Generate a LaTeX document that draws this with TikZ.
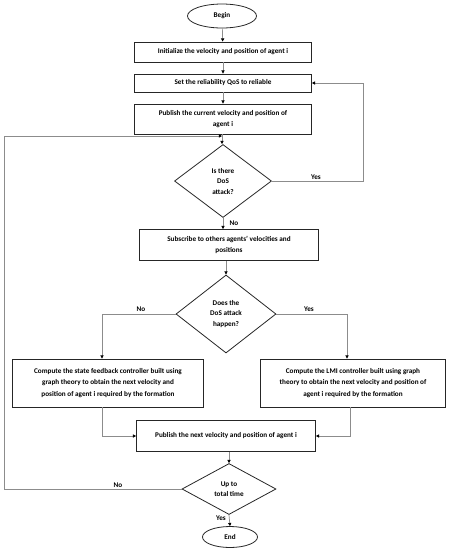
\documentclass[tikz,border=0pt]{standalone}
\usepackage{fontspec}
\setmainfont{Carlito}
\usetikzlibrary{shapes.geometric,arrows.meta}
\begin{document}
\begin{tikzpicture}[x=1pt,y=-1pt,
 font=\bfseries\fontsize{7.2pt}{11.5pt}\selectfont,
 box/.style={draw=black!85, line width=0.8pt, rectangle, align=center, inner sep=0pt},
 dia/.style={draw=black!85, line width=0.8pt, diamond, align=center, inner sep=0pt, font=\bfseries\fontsize{7.2pt}{10.5pt}\selectfont},
 term/.style={draw=black!85, line width=0.8pt, ellipse, inner sep=0pt},
 conn/.style={draw=black!45, line width=0.7pt},
 arr/.style={conn, -{Triangle[length=3.2pt,width=3.2pt,color=black]}},
 lbl/.style={inner sep=1pt}]
\useasboundingbox (0,0) rectangle (449,550);
\node[term, minimum width=69pt, minimum height=24pt] (begin) at (222,16) {Begin};
\node[box, minimum width=177pt, minimum height=20pt] (b1) at (223,52) {Initialize the velocity and position of agent i};
\node[box, minimum width=177pt, minimum height=18pt] (b2) at (223,83) {Set the reliability QoS to reliable};
\node[box, minimum width=177pt, minimum height=30pt] (b3) at (223,119) {Publish the current velocity and position of\\agent i};
\node[dia, minimum width=97pt, minimum height=73pt, aspect=1.33] (d1) at (223,181) {Is there\\DoS\\attack?};
\node[box, minimum width=179pt, minimum height=31pt] (b4) at (229,245) {Subscribe to others agents’ velocities and\\positions};
\node[dia, minimum width=100pt, minimum height=78pt, aspect=1.28] (d2) at (226,314) {Does the\\DoS attack\\happen?};
\node[box, minimum width=191pt, minimum height=48pt] (b5) at (108,383) {Compute the state feedback controller built using\\graph theory to obtain the next velocity and\\position of agent i required by the formation};
\node[box, minimum width=185pt, minimum height=48pt] (b6) at (353,383) {Compute the LMI controller built using graph\\theory to obtain the next velocity and position of\\agent i required by the formation};
\node[box, minimum width=179pt, minimum height=31pt] (b7) at (226,436) {Publish the next velocity and position of agent i};
\node[dia, minimum width=94pt, minimum height=51pt, aspect=1.84] (d3) at (229,489) {Up to\\total time};
\node[term, minimum width=55pt, minimum height=21pt] (end) at (230,537) {End};
% coordinates
\coordinate (j1) at (222,136);
\coordinate (yesR) at (363,181);
\coordinate (noL) at (4,489);
\coordinate (c5) at (102,313);
\coordinate (c6) at (347,313);
\coordinate (m5) at (102,435);
\coordinate (m6) at (350,435);
% connectors
\draw[arr] (begin) -- (b1);
\draw[arr] (b1) -- (b2);
\draw[arr] (b2) -- (b3);
\draw[arr] (b3.south -| j1) -- (d1.north -| j1);
\draw[arr] (d1.east) -- (yesR) |- (b2.east);
\node[lbl] (lyes1) at (316,177) {Yes};
\draw[arr] (d1.south) -- (d1.south |- b4.north);
\node[lbl] (lno1) at (234,223) {No};
\draw[arr] (b4.south -| d2.north) -- (d2.north);
\draw[arr] (d2.west) -| (b5.north -| c5);
\node[lbl] (lno2) at (141,309) {No};
\draw[arr] (d2.east) -| (b6.north -| c6);
\node[lbl] (lyes2) at (309,309) {Yes};
\draw[arr] (b5.south -| m5) |- (b7.west);
\draw[arr] (b6.south -| m6) |- (b7.east);
\draw[arr] (b7.south -| d3.north) -- (d3.north);
\draw[arr] (d3.west) -- (noL) |- (j1);
\node[lbl] (lno3) at (118,485) {No};
\draw[arr] (d3.south) -- (end.north);
\node[lbl] (lyes3) at (221,518) {Yes};
\end{tikzpicture}
\end{document}
